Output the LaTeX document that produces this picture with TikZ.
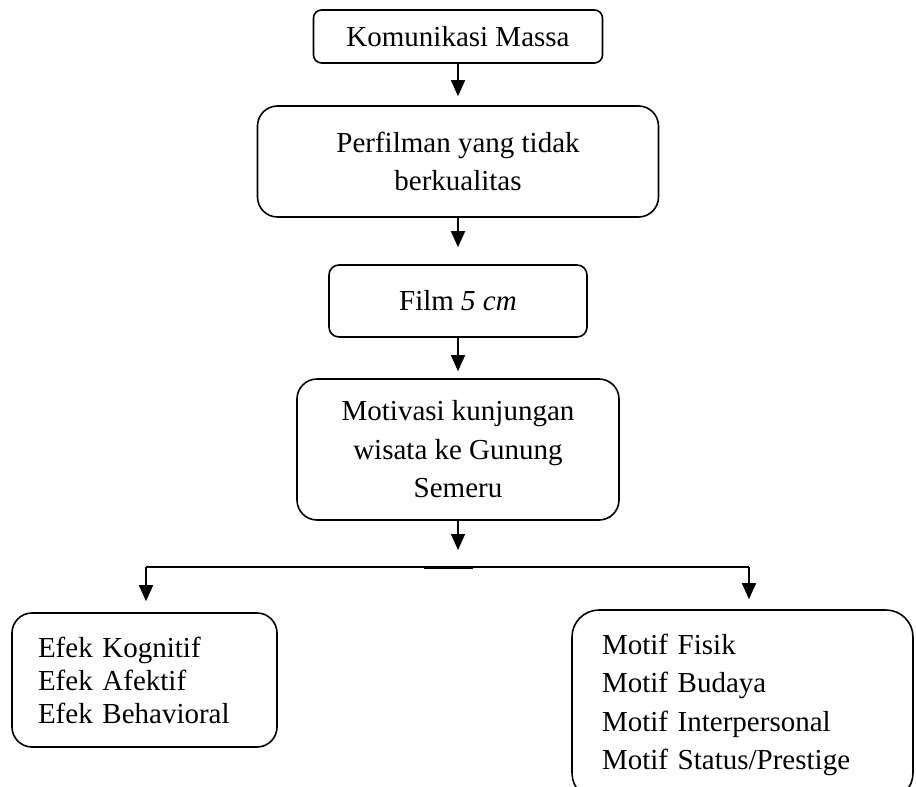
\documentclass[tikz,border=0pt]{standalone}
\usepackage{fontspec}
\setmainfont{Liberation Serif}
\usetikzlibrary{arrows.meta}
\tikzset{
  box/.style={draw, line width=1.6pt, inner sep=0pt, align=center,
    font=\fontsize{29}{38.5}\selectfont},
  arr/.style={line width=1.6pt, -{Triangle[width=14pt,length=16pt]}},
  plainline/.style={line width=1.6pt}
}
\begin{document}
\begin{tikzpicture}[x=1pt,y=-1pt]
\useasboundingbox (0,0) rectangle (916,787);
\clip (0,0) rectangle (916,787);
\node[box, rounded corners=8pt, minimum width=289pt, minimum height=53pt] (b1) at (458,36.5) {Komunikasi Massa};
\node[box, rounded corners=20pt, minimum width=401pt, minimum height=111pt] (b2) at (458,161.5) {Perfilman yang tidak\\berkualitas};
\node[box, rounded corners=10pt, minimum width=258pt, minimum height=72pt] (b3) at (458,301) {Film \textit{5 cm}};
\node[box, rounded corners=20pt, minimum width=322pt, minimum height=141pt] (b4) at (458,449.5) {Motivasi kunjungan\\wisata ke Gunung\\Semeru};
\node[box, rounded corners=20pt, align=left, text width=213pt, inner xsep=26pt, minimum height=134pt,
  font=\fontsize{29}{33}\selectfont] (eb) at (144.5,680) {Efek Kognitif\\Efek Afektif\\Efek Behavioral};
\node[box, rounded corners=27pt, align=left, text width=281pt, inner xsep=30pt, minimum height=190pt] (mb) at (742.5,705) {Motif Fisik\\Motif Budaya\\Motif Interpersonal\\Motif Status/Prestige};
\coordinate (split) at (458,567);
\coordinate (hl) at (146,567);
\coordinate (hr) at (749,567);
\coordinate (s1) at (424,568.5);
\coordinate (s2) at (473,568.5);
\draw[arr, shorten >=9pt] (b1) -- (b2);
\draw[arr, shorten >=17pt] (b2) -- (b3);
\draw[arr, shorten >=7pt] (b3) -- (b4);
\draw[arr, shorten >=17pt] (b4.south) -- (split);
\draw[plainline] (hl) -- (hr);
\draw[plainline] (s1) -- (s2);
\draw[arr, shorten >=11pt] (hl) -- (hl |- eb.north);
\draw[arr, shorten >=10pt] (hr) -- (hr |- mb.north);
\end{tikzpicture}
\end{document}
